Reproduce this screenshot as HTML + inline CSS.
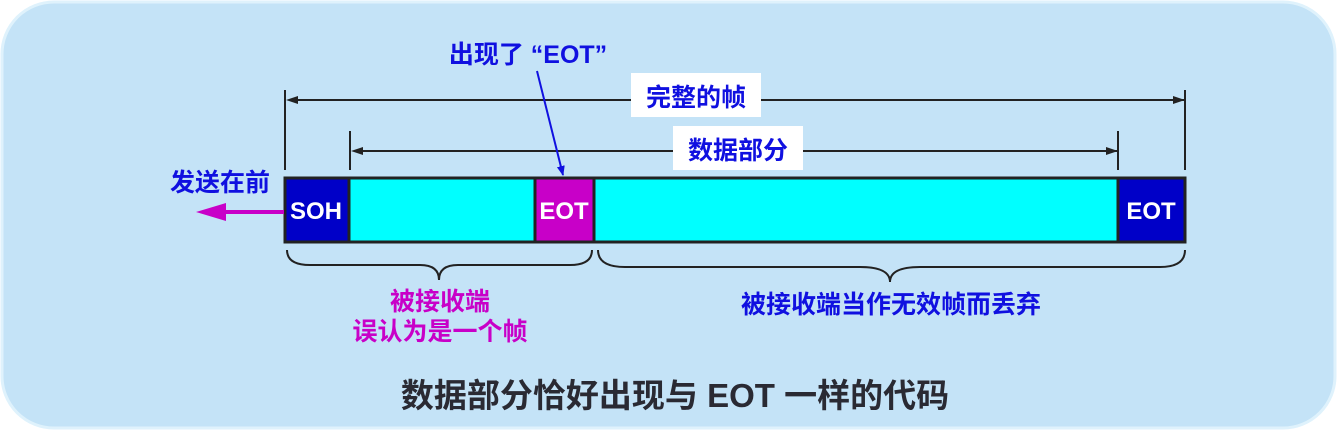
<!DOCTYPE html>
<html><head><meta charset="utf-8"><style>
html,body{margin:0;padding:0;background:#fff;}
svg{display:block;}
text{font-family:"Liberation Sans","Noto Sans CJK SC",sans-serif;font-weight:bold;}
</style></head><body>
<svg width="1338" height="434" viewBox="0 0 1338 434" xmlns="http://www.w3.org/2000/svg">
<defs>
<marker id="ah" markerWidth="12" markerHeight="8" refX="11" refY="4" orient="auto" markerUnits="userSpaceOnUse"><path d="M0,0 L12,4 L0,8 Z" fill="#222"/></marker>
<marker id="bh" markerWidth="10" markerHeight="12" refX="9" refY="6" orient="auto" markerUnits="userSpaceOnUse"><path d="M0,2 L10,6 L0,10 Z" fill="#1010e0"/></marker>
</defs>
<rect x="2" y="2" width="1333" height="426" rx="52" fill="#c4e3f7" stroke="#dff2fc" stroke-width="3"/>
<line x1="285" y1="90" x2="285" y2="170" stroke="#222" stroke-width="2"/>
<line x1="1185" y1="90" x2="1185" y2="170" stroke="#222" stroke-width="2"/>
<line x1="296" y1="100" x2="1184" y2="100" stroke="#222" stroke-width="2" marker-end="url(#ah)"/>
<path d="M286,100 L298,96 L298,104 Z" fill="#222"/>
<rect x="631" y="73" width="130" height="44" fill="#fff"/>
<text x="696" y="106" font-size="25" fill="#1010e0" text-anchor="middle">完整的帧</text>
<line x1="350" y1="131" x2="350" y2="170" stroke="#222" stroke-width="2"/>
<line x1="1118" y1="131" x2="1118" y2="170" stroke="#222" stroke-width="2"/>
<line x1="360" y1="151" x2="1117" y2="151" stroke="#222" stroke-width="2" marker-end="url(#ah)"/>
<path d="M351,151 L363,147 L363,155 Z" fill="#222"/>
<rect x="673" y="126" width="130" height="44" fill="#fff"/>
<text x="738" y="159" font-size="25" fill="#1010e0" text-anchor="middle">数据部分</text>
<rect x="285" y="178" width="900" height="64" fill="#00ffff" stroke="#222" stroke-width="3"/>
<rect x="285" y="178" width="64" height="64" fill="#0000c8" stroke="#222" stroke-width="3"/>
<rect x="535" y="178" width="59" height="64" fill="#c800c8" stroke="#222" stroke-width="3"/>
<rect x="1118" y="178" width="67" height="64" fill="#0000c8" stroke="#222" stroke-width="3"/>
<text x="316" y="219" font-size="24" fill="#fff" text-anchor="middle">SOH</text>
<text x="564" y="219" font-size="24" fill="#fff" text-anchor="middle">EOT</text>
<text x="1151" y="219" font-size="24" fill="#fff" text-anchor="middle">EOT</text>
<text x="528" y="63" font-size="25" fill="#1010e0" text-anchor="middle">出现了 “EOT”</text>
<line x1="537" y1="71" x2="563" y2="175" stroke="#1010e0" stroke-width="2" marker-end="url(#bh)"/>
<text x="220" y="191" font-size="25" fill="#1010e0" text-anchor="middle">发送在前</text>
<line x1="284" y1="212" x2="222" y2="212" stroke="#c800c8" stroke-width="4"/>
<path d="M196,212 L226,203 L226,221 Z" fill="#c800c8"/>
<path d="M287,250 Q287,265 310,265 L420,265 Q439,265 439,280 Q439,265 458,265 L570,265 Q592,265 592,250" fill="none" stroke="#222" stroke-width="2"/>
<path d="M598,250 Q598,267 625,267 L860,267 Q890,267 890,282 Q890,267 920,267 L1160,267 Q1185,267 1185,250" fill="none" stroke="#222" stroke-width="2"/>
<text x="440" y="310" font-size="25" fill="#c800c8" text-anchor="middle">被接收端</text>
<text x="440" y="340" font-size="25" fill="#c800c8" text-anchor="middle">误认为是一个帧</text>
<text x="891" y="313" font-size="25" fill="#1010e0" text-anchor="middle">被接收端当作无效帧而丢弃</text>
<text x="675" y="407" font-size="33" fill="#2a2a33" text-anchor="middle">数据部分恰好出现与 EOT 一样的代码</text>
</svg>
</body></html>
